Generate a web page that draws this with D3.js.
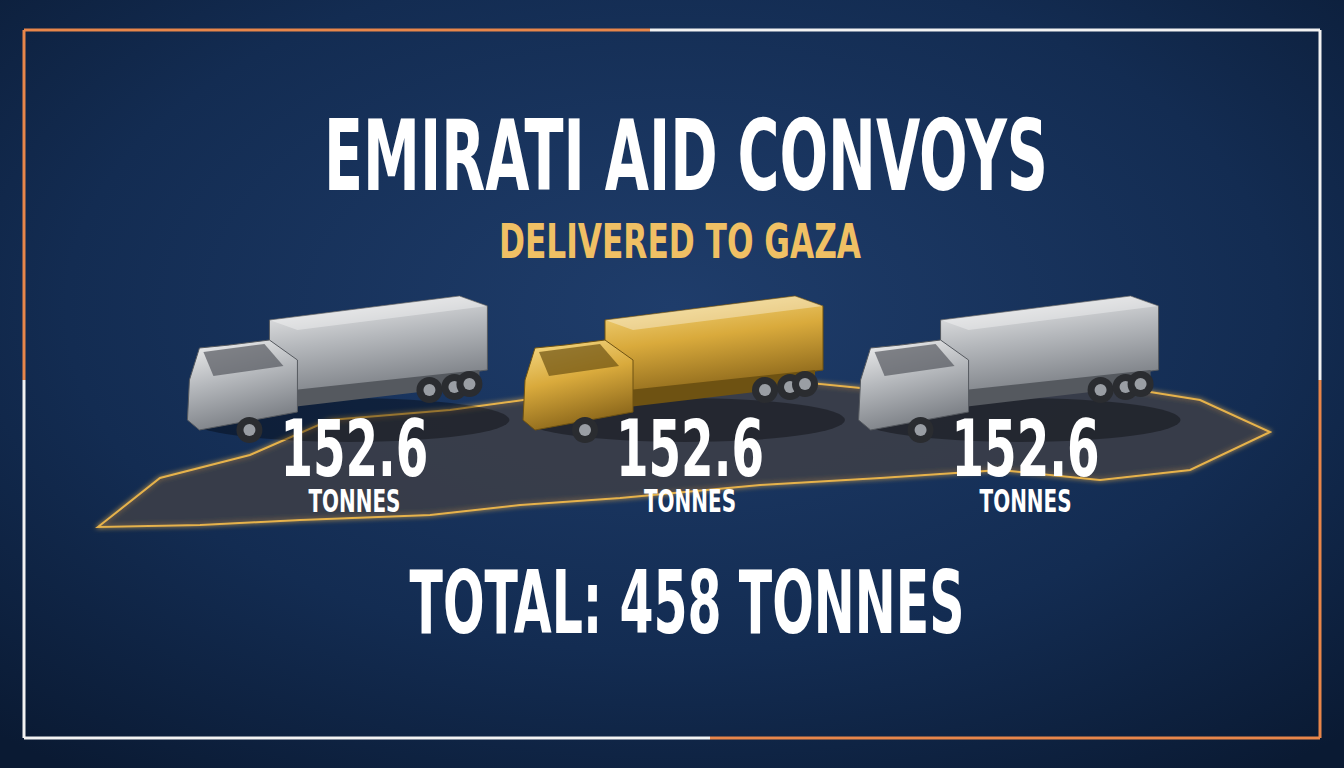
<!DOCTYPE html>
<html>
<head>
<meta charset="utf-8">
<script src="https://cdn.jsdelivr.net/npm/d3@7"></script>
<style>
  body { margin: 0; background: #0f2447; }
  svg { display: block; }
</style>
</head>
<body>
<div id="chart"></div>
<script>
const convoys = ['Convoy 1', 'Convoy 2', 'Convoy 3'];
const tonnes = [152.6, 152.6, 152.6];
const finishes = ['silver', 'gold', 'silver'];
const totalTonnes = 458;
const title = 'EMIRATI AID CONVOYS';
const subtitle = 'DELIVERED TO GAZA';

const W = 1344, H = 768;
const font = '"DejaVu Sans Condensed", "Liberation Sans Narrow", sans-serif';

const svg = d3.select('#chart').append('svg').attr('width', W).attr('height', H);
const defs = svg.append('defs');

const bg = defs.append('radialGradient').attr('id', 'bg').attr('cx', '50%').attr('cy', '40%').attr('r', '75%');
bg.append('stop').attr('offset', '0%').attr('stop-color', '#1f3d6b');
bg.append('stop').attr('offset', '60%').attr('stop-color', '#132c52');
bg.append('stop').attr('offset', '100%').attr('stop-color', '#0a1a33');
svg.append('rect').attr('width', W).attr('height', H).attr('fill', 'url(#bg)');

const grads = {
  silver: ['#f2f2f2', '#b5b8bc', '#7d8187'],
  gold: ['#f7dc8a', '#d9aa3c', '#8f6a1c']
};
Object.entries(grads).forEach(([k, c]) => {
  const g = defs.append('linearGradient').attr('id', 'g-' + k).attr('x1', 0).attr('y1', 0).attr('x2', 0.3).attr('y2', 1);
  c.forEach((col, i) => g.append('stop').attr('offset', i / 2).attr('stop-color', col));
});
const glow = defs.append('filter').attr('id', 'glow');
glow.append('feGaussianBlur').attr('stdDeviation', 2.5).attr('result', 'b');
const fm = glow.append('feMerge');
fm.append('feMergeNode').attr('in', 'b');
fm.append('feMergeNode').attr('in', 'SourceGraphic');

// frame
const frame = svg.append('g').attr('stroke-width', 3).attr('fill', 'none');
const orange = '#e8864a', white = '#f2f2f2';
[[24, 30, 650, 30, orange], [650, 30, 1320, 30, white], [24, 30, 24, 380, orange], [24, 380, 24, 738, white],
 [1320, 30, 1320, 380, white], [1320, 380, 1320, 738, orange], [24, 738, 710, 738, white], [710, 738, 1320, 738, orange]]
  .forEach(d => frame.append('line').attr('x1', d[0]).attr('y1', d[1]).attr('x2', d[2]).attr('y2', d[3]).attr('stroke', d[4]));

// map floor
svg.append('path')
  .attr('d', 'M98,527 L160,478 L250,455 L330,420 L450,410 L560,395 L700,388 L800,382 L900,392 L1000,380 L1100,384 L1200,400 L1270,432 L1190,470 L1100,480 L1000,470 L880,478 L760,485 L620,498 L520,505 L430,515 L300,520 L200,525 Z')
  .attr('fill', '#3a3f48').attr('fill-opacity', 0.7)
  .attr('stroke', '#e6b24c').attr('stroke-width', 2).attr('filter', 'url(#glow)');

const x = d3.scaleBand().domain(convoys).range([190, 1190]).paddingInner(0.02);
const xc = d => x(d) + x.bandwidth() / 2;

// trucks
const trucks = svg.selectAll('g.truck').data(convoys).join('g').attr('class', 'truck')
  .attr('transform', d => `translate(${xc(d) - 175},0)`);
trucks.each(function (d, i) {
  const g = d3.select(this);
  const fill = `url(#g-${finishes[i]})`;
  const dark = finishes[i] === 'gold' ? '#6e5212' : '#55595f';
  const t = g.append('g');
  t.append('ellipse').attr('cx', 170).attr('cy', 420).attr('rx', 160).attr('ry', 22).attr('fill', '#000').attr('opacity', 0.35);
  t.append('path').attr('d', 'M90,320 L280,296 L308,306 L308,370 L118,395 L90,385 Z').attr('fill', fill).attr('stroke', dark);
  t.append('path').attr('d', 'M90,320 L280,296 L308,306 L118,330 Z').attr('fill', '#fff').attr('opacity', 0.35);
  t.append('path').attr('d', 'M20,400 L300,370 L300,385 L20,418 Z').attr('fill', dark);
  t.append('path').attr('d', 'M10,380 L20,348 L50,345 L90,340 L118,360 L118,412 L20,430 L8,420 Z').attr('fill', fill).attr('stroke', dark);
  t.append('path').attr('d', 'M24,352 L85,344 L104,366 L34,376 Z').attr('fill', dark).attr('opacity', 0.7);
  [[70, 430], [250, 390], [275, 387], [290, 384]].forEach(w => {
    t.append('circle').attr('cx', w[0]).attr('cy', w[1]).attr('r', 13).attr('fill', '#2a2c30');
    t.append('circle').attr('cx', w[0]).attr('cy', w[1]).attr('r', 6).attr('fill', '#9a9ea4');
  });
});

// values
const labels = svg.selectAll('g.val').data(convoys).join('g').attr('class', 'val');
labels.append('text').attr('x', d => xc(d)).attr('y', 476).attr('text-anchor', 'middle')
  .attr('font-family', font).attr('font-weight', 'bold').attr('font-size', 78).attr('fill', '#fff')
  .attr('textLength', 148).attr('lengthAdjust', 'spacingAndGlyphs')
  .text((d, i) => tonnes[i].toFixed(1));
labels.append('text').attr('x', d => xc(d)).attr('y', 512).attr('text-anchor', 'middle')
  .attr('font-family', font).attr('font-weight', 'bold').attr('font-size', 32).attr('fill', '#fff')
  .attr('textLength', 92).attr('lengthAdjust', 'spacingAndGlyphs')
  .text('TONNES');

svg.append('text').attr('x', 686).attr('y', 190).attr('text-anchor', 'middle')
  .attr('font-family', font).attr('font-weight', 'bold').attr('font-size', 98).attr('fill', '#fff')
  .attr('textLength', 724).attr('lengthAdjust', 'spacingAndGlyphs').text(title);
svg.append('text').attr('x', 680).attr('y', 258).attr('text-anchor', 'middle')
  .attr('font-family', font).attr('font-weight', 'bold').attr('font-size', 48).attr('fill', '#f0c064')
  .attr('textLength', 362).attr('lengthAdjust', 'spacingAndGlyphs').text(subtitle);
svg.append('text').attr('x', 687).attr('y', 633).attr('text-anchor', 'middle')
  .attr('font-family', font).attr('font-weight', 'bold').attr('font-size', 88).attr('fill', '#fff')
  .attr('textLength', 555).attr('lengthAdjust', 'spacingAndGlyphs').text(`TOTAL: ${totalTonnes} TONNES`);
</script>
</body>
</html>
